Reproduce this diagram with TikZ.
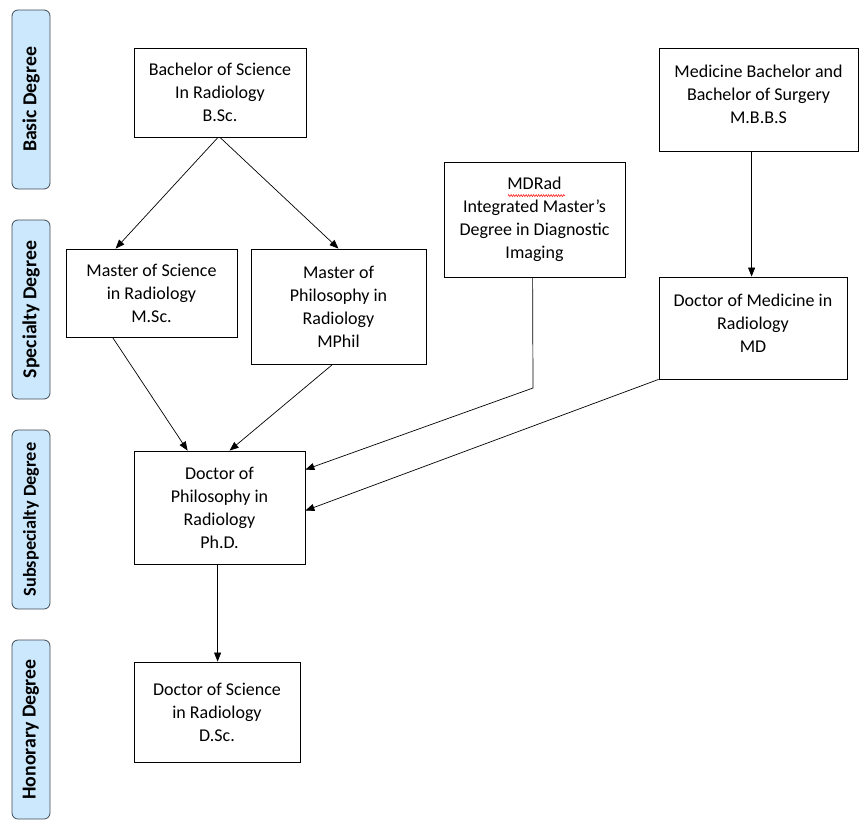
\documentclass[tikz,border=0pt]{standalone}
\usepackage{fontspec}
\setmainfont{Carlito}
\usetikzlibrary{arrows.meta,decorations.pathmorphing}
\definecolor{lblfill}{HTML}{CCE8FC}
\definecolor{lbldraw}{HTML}{3F4A55}
\begin{document}
\begin{tikzpicture}[x=1pt,y=-1pt,
  box/.style={draw=black, line width=0.8pt, fill=white, inner sep=0pt, align=center,
    font=\fontsize{18}{23}\selectfont},
  lvl/.style={draw=lbldraw, line width=0.8pt, fill=lblfill, rounded corners=6pt, rotate=90,
    minimum width=179pt, minimum height=38pt, inner sep=0pt,
    font=\fontsize{19.8}{22}\selectfont\bfseries},
  conn/.style={line width=0.7pt, -{Triangle[length=9pt,width=7pt]}},
  txt/.style={align=center, inner sep=0pt, font=\fontsize{18}{23}\selectfont}
]
\useasboundingbox (0,0) rectangle (867,833);

% level labels
\node[lvl] (lbasic) at (31,99.5) {Basic Degree};
\node[lvl] (lspec) at (31,309.5) {Specialty Degree};
\node[lvl, font=\fontsize{18.3}{22}\selectfont\bfseries] (lsub) at (31,519.5) {Subspecialty Degree};
\node[lvl] (lhon) at (31,729.5) {Honorary Degree};

% boxes
\node[box, minimum width=172pt, minimum height=89pt] (bsc) at (220,92.5)
  {Bachelor of Science\\In Radiology\\B.Sc.};
\node[box, minimum width=171pt, minimum height=88pt] (msc) at (151.5,293)
  {Master of Science\\in Radiology\\M.Sc.};
\node[box, minimum width=175pt, minimum height=115pt] (mphil) at (338.5,306.5)
  {Master of\\Philosophy in\\Radiology\\MPhil};
\node[box, minimum width=181pt, minimum height=115pt] (mdrad) at (534.5,219.5)
  {MDRad\\Integrated Master’s\\Degree in Diagnostic\\Imaging};
\node[box, minimum width=199pt, minimum height=103pt,
  label={[txt, yshift=5pt]center:Medicine Bachelor and\\Bachelor of Surgery\\M.B.B.S}] (mbbs) at (758.5,99.5) {};
\node[box, minimum width=188pt, minimum height=102pt,
  label={[txt, yshift=5pt]center:Doctor of Medicine in\\Radiology\\MD}] (md) at (753,328) {};
\node[box, minimum width=171pt, minimum height=113pt] (phd) at (219.5,507.5)
  {Doctor of\\Philosophy in\\Radiology\\Ph.D.};
\node[box, minimum width=166pt, minimum height=100pt] (dsc) at (217,712)
  {Doctor of Science\\in Radiology\\D.Sc.};

% spell-check squiggle under MDRad
\draw[red, line width=0.5pt, decorate, decoration={zigzag, amplitude=1pt, segment length=2.5pt}]
  ([xshift=-26.5pt,yshift=-34pt]mdrad.north) -- ([xshift=30.5pt,yshift=-34pt]mdrad.north);

% connectors
\coordinate (mdbend) at (533,388);
\draw[conn] ([xshift=-2pt]bsc.south) -- ([xshift=50pt]msc.north west);
\draw[conn] (bsc.south) -- (mphil.north);
\draw[conn] ([xshift=47pt]msc.south west) -- ([xshift=54pt]phd.north west);
\draw[conn] ([xshift=82pt]mphil.south west) -- ([xshift=96pt]phd.north west);
\draw[conn] ([xshift=89pt]mdrad.south west) -- (mdbend) -- ([yshift=-19pt]phd.north east);
\draw[conn] (md.south west) -- ([yshift=-60pt]phd.north east);
\draw[conn] ([xshift=93pt]mbbs.south west) -- ([xshift=93pt]md.north west);
\draw[conn] ([xshift=84pt]phd.south west) -- ([xshift=84pt]dsc.north west);
\end{tikzpicture}
\end{document}
